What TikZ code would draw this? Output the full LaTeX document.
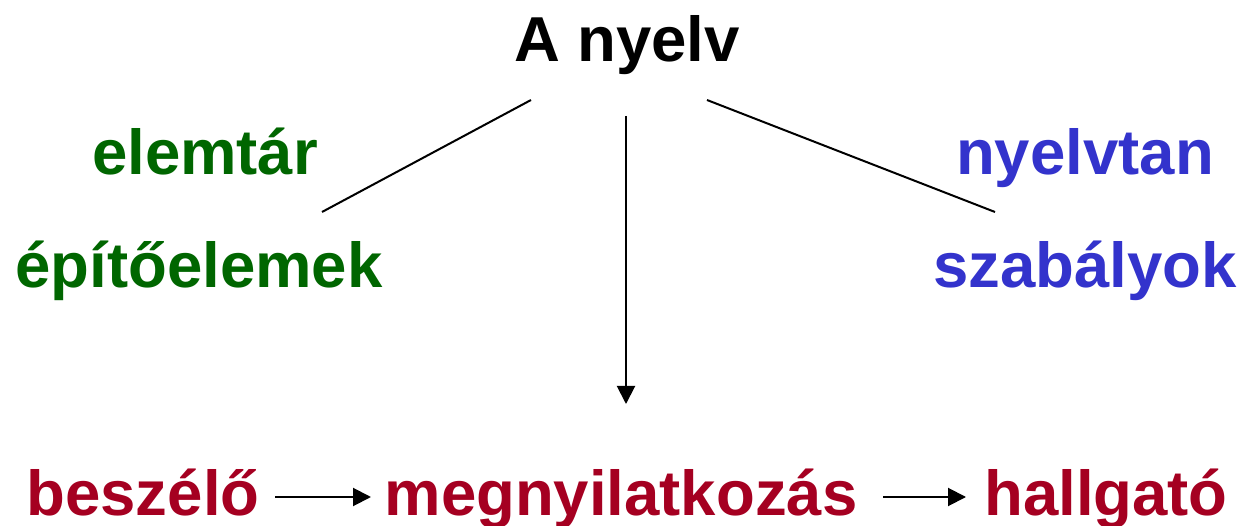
\documentclass[tikz,border=0pt]{standalone}
\usepackage{fontspec}
\setmainfont{Liberation Sans}
\usetikzlibrary{arrows.meta}
\definecolor{lgreen}{HTML}{006600}
\definecolor{lblue}{HTML}{3333CC}
\definecolor{lred}{HTML}{A50021}
\tikzset{
  lbl/.style={inner sep=0pt, anchor=base, font=\fontsize{63.5}{70}\selectfont\bfseries},
  conn/.style={line width=2pt, black},
  arr/.style={conn, -{Triangle[length=18pt,width=18pt]}}
}
\begin{document}
\begin{tikzpicture}[x=1pt,y=-1pt]
\useasboundingbox (0,0) rectangle (1245,526);
\node[lbl] (title) at (627,62) {A nyelv};
\node[lbl, lgreen] (elemtar) at (205,175) {elemtár};
\node[lbl, lgreen] (epito) at (199,288) {építőelemek};
\node[lbl, lblue] (nyelvtan) at (1085,175) {nyelvtan};
\node[lbl, lblue] (szabalyok) at (1085,288) {szabályok};
\node[lbl, lred] (beszelo) at (143,515) {beszélő};
\node[lbl, lred] (megny) at (621,515) {megnyilatkozás};
\node[lbl, lred] (hallgato) at (1106,515) {hallgató};
\coordinate (tl) at (531,100);
\coordinate (ll) at (322,212);
\coordinate (tr) at (707,100);
\coordinate (rr) at (995,212);
\coordinate (tm) at (626,116);
\coordinate (mm) at (626,404);
\coordinate (a1s) at (275,497);
\coordinate (a1e) at (371,497);
\coordinate (a2s) at (883,497);
\coordinate (a2e) at (966,497);
\draw[conn] (tl) -- (ll);
\draw[conn] (tr) -- (rr);
\draw[arr] (tm) -- (mm);
\draw[arr] (a1s) -- (a1e);
\draw[arr] (a2s) -- (a2e);
\end{tikzpicture}
\end{document}
